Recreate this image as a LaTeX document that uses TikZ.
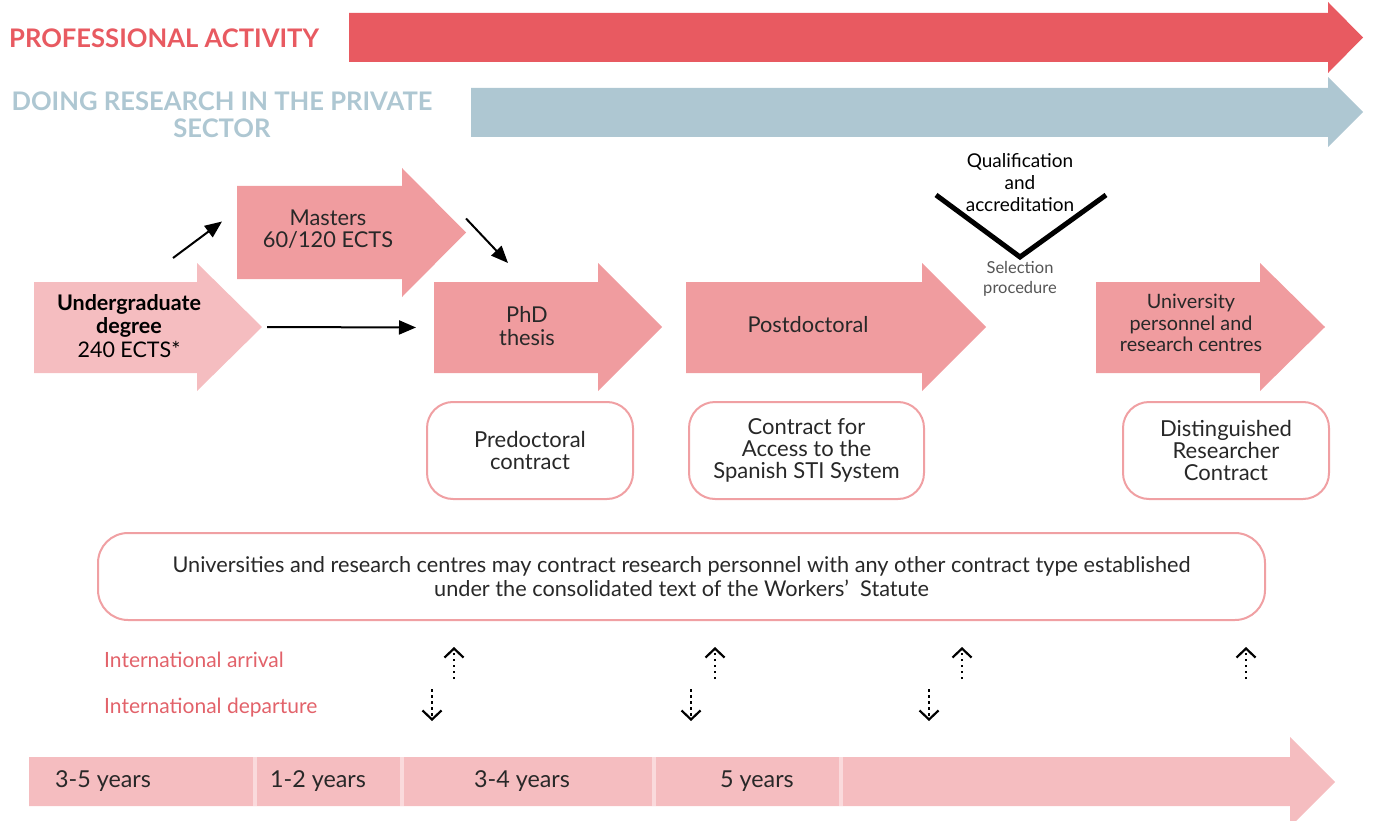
\documentclass[tikz,border=0pt]{standalone}
\usepackage{fontspec}
\setmainfont{Lato}
\usetikzlibrary{positioning,arrows.meta,calc}
\definecolor{paRed}{RGB}{232,90,97}
\definecolor{psBlue}{RGB}{174,199,210}
\definecolor{stLight}{RGB}{245,189,192}
\definecolor{stMid}{RGB}{240,156,159}
\definecolor{boxLine}{RGB}{240,160,163}
\definecolor{intRed}{RGB}{226,98,106}
\definecolor{txtDark}{RGB}{40,40,40}
\definecolor{txtGray}{RGB}{85,85,85}
\definecolor{sepPink}{RGB}{250,218,220}

% block arrow: name, colour, left x, head x, tip x, shaft top, shaft bottom, head top, head bottom
\newcommand\bigarrow[9]{%
  \fill[#2] (#3,#6) -- (#4,#6) -- (#4,#8) -- (#5,{(#8+#9)/2}) -- (#4,#9) -- (#4,#7) -- (#3,#7) -- cycle;
  \coordinate (#1-tail) at (#3,{(#6+#7)/2});
  \coordinate (#1-tip) at (#5,{(#8+#9)/2});
  \coordinate (#1-nw) at (#3,#6);
  \coordinate (#1-headtop) at (#4,#8);
}

\tikzset{
  fs/.style 2 args={font=\fontsize{#1}{#2}\selectfont},
  heading/.style={font=\fontsize{25.6}{27}\selectfont\bfseries, anchor=west, inner sep=0},
  stage/.style={fs={21.8}{23}, align=center, text=txtDark, inner sep=0},
  contract/.style={draw=boxLine, line width=2, rounded corners=26, fill=white,
    align=center, text=txtDark, fs={22}{22}, inner sep=0},
  link/.style={-{Triangle[length=17,width=14]}, line width=2, black},
  arrive/.style={-{Straight Barb[length=9,width=19,line width=2.2]}, line width=2.2, dash pattern=on 2.5 off 3.5},
  intl/.style={fs={21}{23}, text=intRed, anchor=west, inner sep=0},
  years/.style={fs={23.3}{25}, text=txtDark, inner sep=0},
}

\begin{document}
\begin{tikzpicture}[x=1pt,y=-1pt]
  \useasboundingbox (0,0) rectangle (1373,821);

  % Top bands
  \bigarrow{pa}{paRed}{349}{1328}{1363}{13}{62}{2}{73}
  \bigarrow{ps}{psBlue}{471}{1328}{1363}{88}{137}{77}{147}
  \node[heading, text=paRed] (profact) at (9,38) {PROFESSIONAL ACTIVITY};
  \node[heading, text=psBlue, align=center, anchor=north] (privsec) at (222,92)
    {DOING RESEARCH IN THE PRIVATE\\SECTOR};

  % Career stages
  \bigarrow{ug}{stLight}{34}{197}{262}{282}{373}{263}{391}
  \bigarrow{ms}{stMid}{237}{402}{466}{186}{279}{168}{297}
  \bigarrow{phd}{stMid}{434}{598}{662}{282}{373}{263}{391}
  \bigarrow{pd}{stMid}{686}{922}{986}{282}{373}{263}{391}
  \bigarrow{un}{stMid}{1096}{1260}{1325}{282}{373}{263}{391}

  \node[stage, fs={21.5}{23.5}, text=black] (ug) at (129,326) {\bfseries Undergraduate\\\bfseries degree\\240 ECTS*};
  \node[stage, fs={21.8}{22}] (masters) at (328,229) {Masters\\60/120 ECTS};
  \node[stage] (phd) at (527,326) {PhD\\thesis};
  \node[stage] (postdoc) at (808,325) {Postdoctoral};
  \node[stage, fs={19.8}{21.5}] (univ) at (1191,323) {University\\personnel and\\research centres};

  % Links
  \draw[link] ([shift={(-24,-5)}]ug-headtop) -- ([shift={(-15,-11)}]ms-tail);
  \draw[link] ([shift={(0,-14)}]ms-tip) -- ([shift={(74,-19)}]phd-nw);
  \draw[link] ([xshift=5]ug-tip) -- ([xshift=-18]phd-tail);

  % Qualification
  \coordinate (vleft) at (936,195);
  \coordinate (vbot) at (1020,257);
  \coordinate (vright) at (1106,195);
  \draw[line width=5, black] (vleft) -- (vbot) -- (vright);
  \node[stage, fs={19}{22}, text=black] (qual) at (1020,183) {Qualification\\and\\accreditation};
  \node[stage, fs={16.5}{20}, text=txtGray] (selproc) at (1020,279) {Selection\\procedure};

  % Contracts
  \node[contract, minimum width=206, minimum height=97] (predoc) at (530,450.5) {Predoctoral\\contract};
  \node[contract, minimum width=235, minimum height=97] (access) at (806.5,450.5) {Contract for\\Access to the\\Spanish STI System};
  \node[contract, minimum width=206, minimum height=97] (distres) at (1226,450.5) {Distinguished\\Researcher\\Contract};
  \node[contract, fs={21.7}{24}, minimum width=1167, minimum height=87, rounded corners=30] (anycontract) at (681.5,576.5)
    {Universities and research centres may contract research personnel with any other contract type established\\under the consolidated text of the Workers'\ \ Statute};

  % Mobility
  \node[intl] (arrival) at (104,660) {International arrival};
  \node[intl] (departure) at (104,708) {International departure};
  \foreach \x in {454,715,962,1246}
    \draw[arrive] (\x,679) -- (\x,647);
  \foreach \x in {432,691,929}
    \draw[arrive] (\x,689) -- (\x,721);

  % Timeline
  \bigarrow{tl}{stLight}{29}{1290}{1335}{757}{806}{737}{827}
  \foreach \x in {254.5,401.5,654,840.5}
    \draw[sepPink, line width=4] (\x,757) -- (\x,806);
  \node[years] (yrA) at (103,781) {3-5 years};
  \node[years] (yrB) at (318,781) {1-2 years};
  \node[years] (yrC) at (522,781) {3-4 years};
  \node[years] (yrD) at (757,781) {5 years};
\end{tikzpicture}
\end{document}
